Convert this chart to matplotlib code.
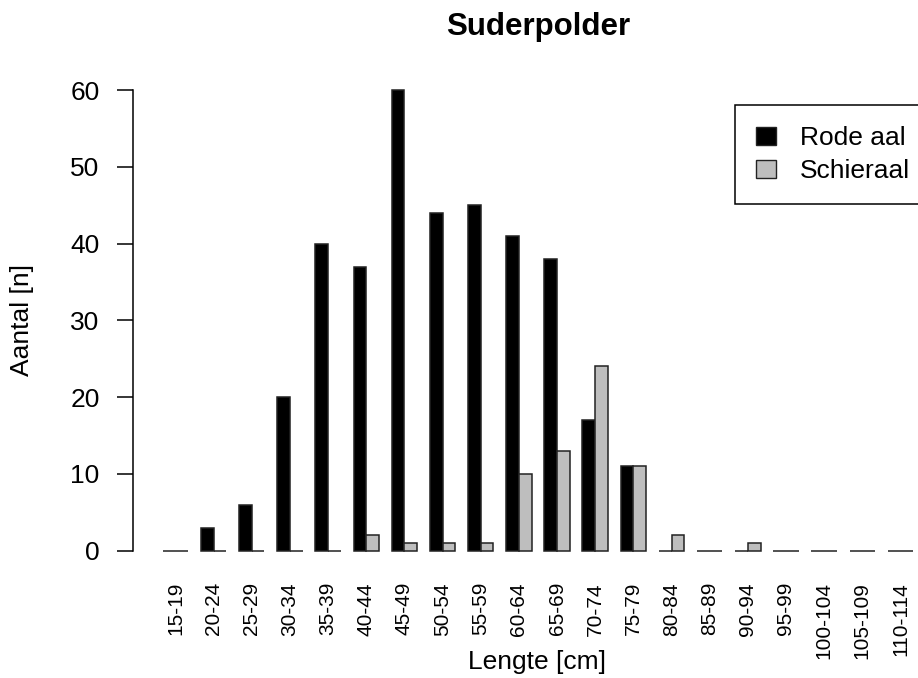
import numpy as np
import matplotlib
matplotlib.use("Agg")
import matplotlib.pyplot as plt
from matplotlib.patches import Patch

plt.rcParams['font.family'] = ['Liberation Sans', 'DejaVu Sans']

# length classes and counts per eel stage
klassen = ["15-19", "20-24", "25-29", "30-34", "35-39", "40-44", "45-49",
           "50-54", "55-59", "60-64", "65-69", "70-74", "75-79", "80-84",
           "85-89", "90-94", "95-99", "100-104", "105-109", "110-114"]
rode_aal = [0, 3, 6, 20, 40, 37, 60, 44, 45, 41, 38, 17, 11, 0, 0, 0, 0, 0, 0, 0]
schieraal = [0, 0, 0, 0, 0, 2, 1, 1, 1, 10, 13, 24, 11, 2, 0, 1, 0, 0, 0, 0]

W, H = 918, 678
PX = 72 / 100  # points per pixel at dpi 100
fig = plt.figure(figsize=(W / 100, H / 100), dpi=100)

# plot region in pixels (R style, 4% padding), runs past the right edge
left, right = 132.7, 943.2
top, bottom = 71.6, 569.1
ax = fig.add_axes([left / W, 1 - bottom / H, (right - left) / W, (bottom - top) / H])

# grouped bars like barplot(beside=TRUE): space 1 before each group
n = len(klassen)
x_rode = 1 + 3 * np.arange(n)
x_schier = x_rode + 1
ax.bar(x_rode, rode_aal, width=1, align='edge', color='black',
       edgecolor='#222222', linewidth=1.1)
ax.bar(x_schier, schieraal, width=1, align='edge', color='#BEBEBE',
       edgecolor='#222222', linewidth=1.1)

ax.set_xlim(1 - 0.04 * 59, 60 + 0.04 * 59)
ax.set_ylim(-2.4, 62.4)

for s in ['top', 'right', 'bottom']:
    ax.spines[s].set_visible(False)
ax.spines['left'].set_bounds(0, 60)
ax.spines['left'].set_linewidth(1.1)

ax.set_yticks(np.arange(0, 61, 10))
ax.tick_params(axis='y', length=16 * PX, width=1.1, pad=17 * PX, labelsize=19)
ax.set_xticks(x_rode + 1)
ax.set_xticklabels(klassen, rotation=90, fontsize=15, va='top', ha='center')
ax.tick_params(axis='x', length=0, pad=13 * PX)

fig.text(538 / W, 1 - 35 / H, "Suderpolder", ha='center', va='baseline',
         fontsize=22.5, fontweight='bold')
fig.text(537 / W, 1 - 669 / H, "Lengte [cm]", ha='center', va='baseline',
         fontsize=19)
fig.text(22 / W, 1 - 320 / H, "Aantal [n]", ha='center', va='center',
         rotation=90, fontsize=19)

handles = [Patch(facecolor='black', edgecolor='#222222', label='Rode aal'),
           Patch(facecolor='#BEBEBE', edgecolor='#222222', label='Schieraal')]
leg = ax.legend(handles=handles, loc='upper left',
                bbox_to_anchor=(735 / W, 1 - 105 / H), bbox_transform=fig.transFigure,
                fontsize=19, frameon=True, fancybox=False, framealpha=1,
                edgecolor='black', borderpad=0.8, handlelength=0.75,
                handleheight=0.7, handletextpad=0.9, labelspacing=0.35,
                borderaxespad=0)
leg.get_frame().set_linewidth(1.1)

fig.savefig("out.png", dpi=100)
